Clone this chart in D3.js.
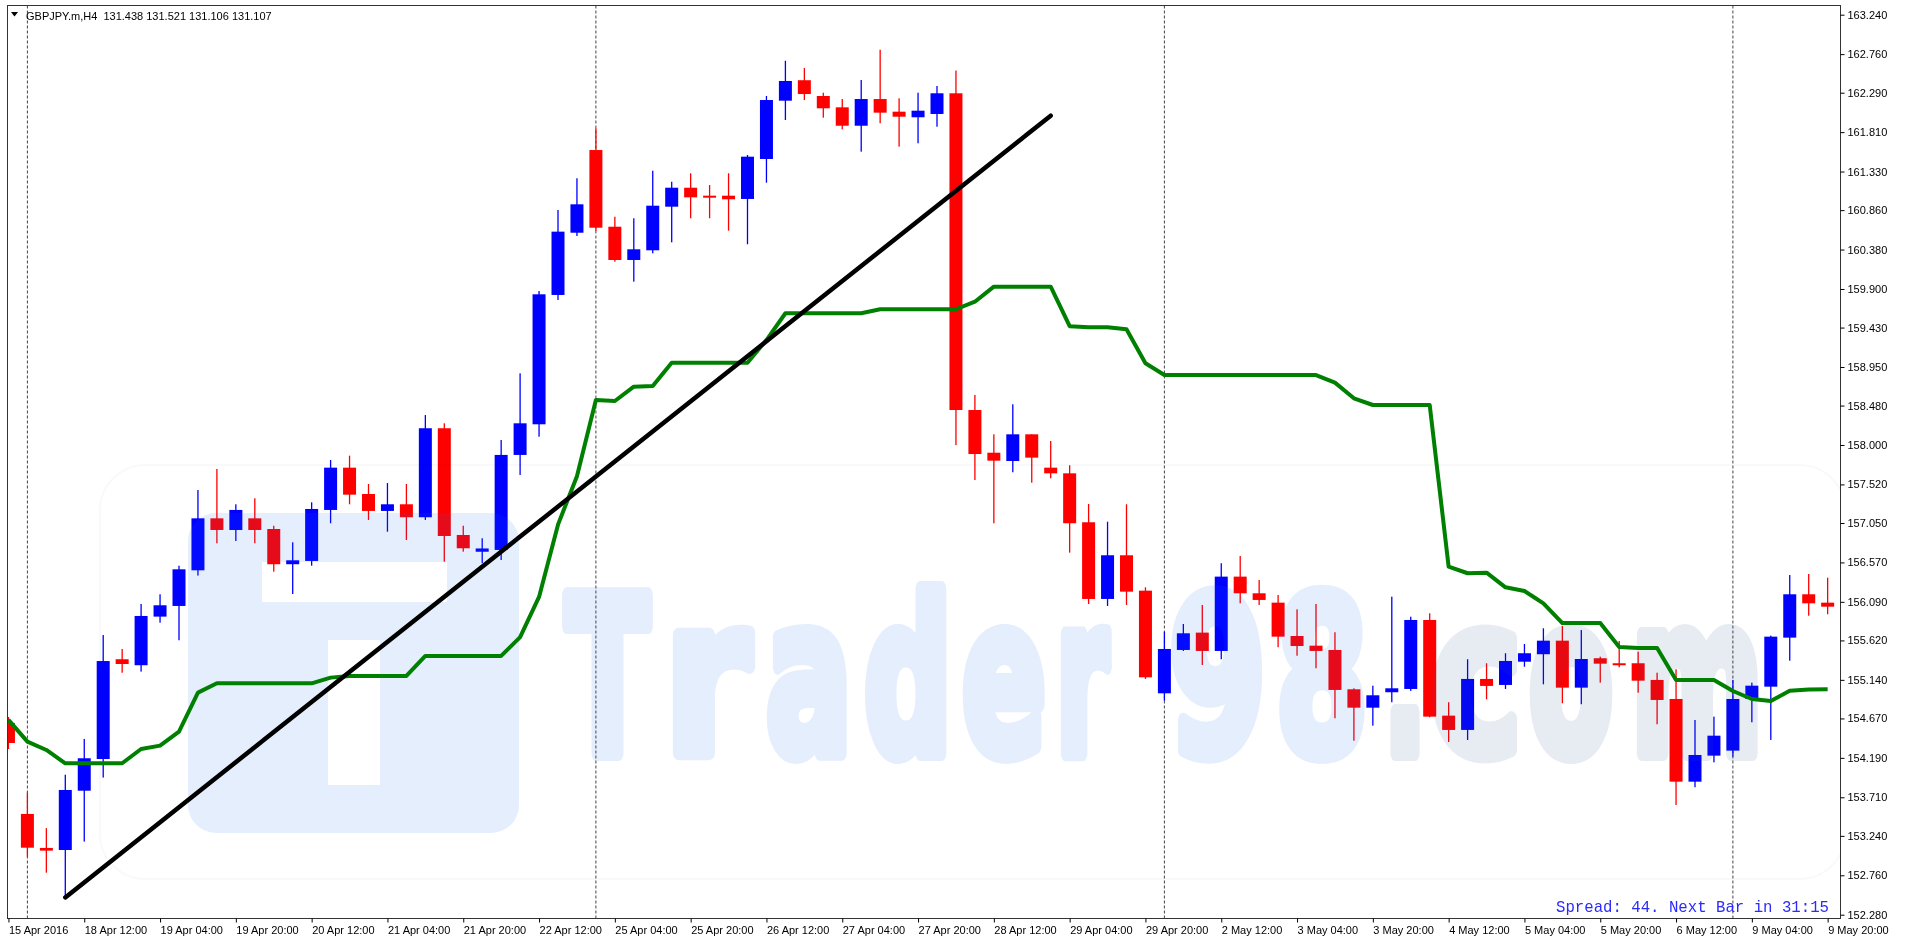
<!DOCTYPE html>
<html>
<head>
<meta charset="utf-8">
<script src="https://cdn.jsdelivr.net/npm/d3@7"></script>
<style>
  body { margin: 0; background: #fff; }
  svg { display: block; }
  .tick text { font-family: "Liberation Sans", Arial, sans-serif; font-size: 11px; fill: #000; }
</style>
</head>
<body>
<div id="chart"></div>
<script>
const TRADING_DAYS = ["15 Apr", "18 Apr", "19 Apr", "20 Apr", "21 Apr", "22 Apr",
                      "25 Apr", "26 Apr", "27 Apr", "28 Apr", "29 Apr",
                      "2 May", "3 May", "4 May", "5 May", "6 May", "9 May"];
const HOURS = ["00:00", "04:00", "08:00", "12:00", "16:00", "20:00"];

const OPEN = [154.615, 153.507, 153.093, 153.068, 153.790, 154.176, 155.391, 155.318, 155.910, 156.040,
              156.474, 157.107, 156.965, 157.107, 156.977, 156.548, 156.588, 157.209, 157.724, 157.403,
              157.197, 157.278, 157.120, 158.204, 156.904, 156.700, 156.722, 157.879, 158.252, 159.827,
              160.585, 161.592, 160.658, 160.253, 160.371, 160.902, 161.133, 161.036, 161.036, 160.996,
              161.483, 162.193, 162.442, 162.250, 162.112, 161.888, 162.213, 162.059, 161.991, 162.031,
              162.283, 158.426, 157.906, 157.805, 158.130, 157.724, 157.655, 157.059, 156.125, 156.657,
              156.226, 154.976, 155.504, 155.715, 155.492, 156.397, 156.194, 156.080, 155.674, 155.556,
              155.504, 155.025, 154.801, 154.989, 155.029, 155.869, 154.704, 154.530, 155.151, 155.078,
              155.361, 155.452, 155.617, 155.045, 155.403, 155.342, 155.342, 155.139, 154.907, 153.900,
              154.217, 154.278, 154.907, 155.057, 155.654, 156.182, 156.080];
const HIGH = [154.688, 153.766, 153.334, 153.985, 154.420, 155.686, 155.516, 156.064, 156.182, 156.530,
              157.452, 157.708, 157.278, 157.351, 157.017, 156.815, 157.302, 157.817, 157.870, 157.525,
              157.537, 157.525, 158.365, 158.264, 157.017, 156.864, 158.061, 158.873, 159.875, 160.862,
              161.248, 161.857, 160.780, 160.761, 161.340, 161.206, 161.309, 161.166, 161.309, 161.532,
              162.250, 162.679, 162.590, 162.290, 162.213, 162.445, 162.813, 162.222, 162.290, 162.372,
              162.560, 158.609, 158.130, 158.496, 158.130, 158.049, 157.753, 157.282, 157.066, 157.278,
              156.267, 155.727, 155.820, 156.052, 156.560, 156.649, 156.356, 156.174, 155.999, 156.064,
              155.720, 155.037, 155.069, 156.153, 155.909, 155.951, 154.867, 155.391, 155.342, 155.464,
              155.577, 155.768, 155.796, 155.747, 155.422, 155.613, 155.483, 155.227, 155.269, 154.651,
              154.692, 155.139, 155.106, 155.678, 156.417, 156.429, 156.384];
const LOW = [154.298, 152.987, 152.792, 152.500, 153.170, 153.950, 155.227, 155.240, 155.836, 155.622,
             156.410, 156.803, 156.831, 156.803, 156.457, 156.186, 156.530, 157.047, 157.278, 157.087,
             156.944, 156.843, 157.087, 156.579, 156.701, 156.560, 156.600, 157.635, 158.101, 159.766,
             160.545, 160.606, 160.232, 159.989, 160.334, 160.468, 160.761, 160.761, 160.610, 160.444,
             161.194, 161.958, 162.201, 161.986, 161.844, 161.572, 161.918, 161.633, 161.674, 161.876,
             157.998, 157.574, 157.047, 157.668, 157.541, 157.595, 156.689, 156.064, 156.040, 156.052,
             155.151, 154.886, 155.492, 155.321, 155.391, 156.072, 156.052, 155.537, 155.434, 155.281,
             154.672, 154.399, 154.582, 154.867, 155.005, 154.684, 154.383, 154.408, 154.903, 155.029,
             155.300, 155.086, 154.855, 154.843, 155.106, 155.293, 154.984, 154.599, 153.616, 153.832,
             154.136, 154.205, 154.623, 154.408, 155.373, 155.921, 155.939];
const CLOSE = [154.371, 153.096, 153.060, 153.799, 154.185, 155.369, 155.333, 155.918, 156.048, 156.486,
               157.107, 156.965, 157.209, 156.965, 156.548, 156.596, 157.221, 157.724, 157.395, 157.197,
               157.278, 157.120, 158.204, 156.892, 156.742, 156.740, 157.879, 158.264, 159.835, 160.598,
               160.931, 160.646, 160.253, 160.383, 160.914, 161.133, 161.016, 161.016, 160.992, 161.511,
               162.201, 162.433, 162.274, 162.100, 161.888, 162.213, 162.047, 161.998, 162.071, 162.283,
               158.426, 157.890, 157.809, 158.130, 157.846, 157.655, 157.047, 156.125, 156.657, 156.214,
               155.171, 155.516, 155.707, 155.492, 156.397, 156.194, 156.113, 155.666, 155.552, 155.492,
               155.017, 154.801, 154.952, 155.037, 155.869, 154.692, 154.530, 155.151, 155.066, 155.370,
               155.464, 155.617, 155.045, 155.394, 155.337, 155.330, 155.130, 154.895, 153.900, 154.225,
               154.460, 154.907, 155.069, 155.666, 156.182, 156.072, 156.031];

const MA = [154.652, 154.387, 154.286, 154.124, 154.124, 154.124, 154.124, 154.298, 154.339, 154.510,
            154.984, 155.098, 155.098, 155.098, 155.098, 155.098, 155.098, 155.167, 155.187, 155.187,
            155.187, 155.187, 155.431, 155.431, 155.431, 155.431, 155.431, 155.660, 156.150, 157.030,
            157.620, 158.548, 158.536, 158.710, 158.719, 159.002, 159.002, 159.002, 159.002, 159.002,
            159.278, 159.604, 159.604, 159.604, 159.604, 159.604, 159.653, 159.653, 159.653, 159.653,
            159.653, 159.745, 159.928, 159.928, 159.928, 159.928, 159.447, 159.435, 159.435, 159.410,
            158.995, 158.852, 158.852, 158.852, 158.852, 158.852, 158.852, 158.852, 158.852, 158.852,
            158.759, 158.569, 158.487, 158.487, 158.487, 158.487, 156.518, 156.438, 156.445, 156.267,
            156.222, 156.072, 155.832, 155.832, 155.832, 155.540, 155.528, 155.528, 155.138, 155.138,
            155.138, 155.004, 154.907, 154.883, 155.008, 155.023, 155.025];

const TREND_TIMES = ["18 Apr 08:00", "29 Apr 00:00"];
const TREND_PRICES = [152.49, 162.01];

const SEPARATOR_TIMES = ["18 Apr 00:00", "25 Apr 00:00", "2 May 00:00", "9 May 00:00"];

const Y_TICKS = [163.240, 162.760, 162.290, 161.810, 161.330, 160.860, 160.380, 159.900,
                 159.430, 158.950, 158.480, 158.000, 157.520, 157.050, 156.570, 156.090,
                 155.620, 155.140, 154.670, 154.190, 153.710, 153.240, 152.760, 152.280];
const X_TICK_LABELS = ["15 Apr 2016", "18 Apr 12:00", "19 Apr 04:00", "19 Apr 20:00", "20 Apr 12:00",
                       "21 Apr 04:00", "21 Apr 20:00", "22 Apr 12:00", "25 Apr 04:00", "25 Apr 20:00",
                       "26 Apr 12:00", "27 Apr 04:00", "27 Apr 20:00", "28 Apr 12:00", "29 Apr 04:00",
                       "29 Apr 20:00", "2 May 12:00", "3 May 04:00", "3 May 20:00", "4 May 12:00",
                       "5 May 04:00", "5 May 20:00", "6 May 12:00", "9 May 04:00", "9 May 20:00"];

const TITLE = "GBPJPY.m,H4  131.438 131.521 131.106 131.107";
const SPREAD_TEXT = "Spread: 44. Next Bar in 31:15";

// bar times: only the last H4 bar of 15 Apr is on screen
const TIMES = [TRADING_DAYS[0] + " 20:00"];
TRADING_DAYS.slice(1).forEach((day) => {
    HOURS.forEach((h) => TIMES.push(day + " " + h));
});
const X_TICK_TIMES = TIMES.filter((t, i) => i % 4 == 0);

const WIDTH = 1906;
const HEIGHT = 937;
const LEFT = 7.5, TOP = 5.5, RIGHT = 1840.5, BOTTOM = 918.5;
const BODY_W = 13;

const X = d3.scalePoint()
            .domain(TIMES)
            .range([8.45, 1827.65]);
const Y = d3.scaleLinear()
            .domain([152.28, 163.24])
            .range([914.7, 14.7]);

const bars = TIMES.map((t, i) => ({t: t, o: OPEN[i], h: HIGH[i], l: LOW[i], c: CLOSE[i], ma: MA[i]}));

let svg = d3.select('#chart')
            .append('svg')
            .attr('width', WIDTH)
            .attr('height', HEIGHT);

svg.append('rect')
   .attr('width', WIDTH)
   .attr('height', HEIGHT)
   .attr('fill', '#fff');

svg.append('clipPath')
   .attr('id', 'plot-clip')
   .append('rect')
   .attr('x', LEFT + 0.5)
   .attr('y', TOP + 0.5)
   .attr('width', RIGHT - LEFT - 1)
   .attr('height', BOTTOM - TOP - 1);

let plot = svg.append('g').attr('clip-path', 'url(#plot-clip)');

plot.selectAll('line.sep')
    .data(SEPARATOR_TIMES)
    .enter()
    .append('line')
    .attr('class', 'sep')
    .attr('x1', (d) => X(d))
    .attr('x2', (d) => X(d))
    .attr('y1', TOP)
    .attr('y2', BOTTOM)
    .attr('stroke', '#444')
    .attr('stroke-width', 1)
    .attr('stroke-dasharray', '3,2');

let candle = plot.selectAll('g.candle')
                 .data(bars)
                 .enter()
                 .append('g')
                 .attr('class', 'candle')
                 .attr('fill', (d) => d.c >= d.o ? '#0000ff' : '#ff0000');

candle.append('rect')
      .attr('x', (d) => X(d.t) - 0.65)
      .attr('width', 1.3)
      .attr('y', (d) => Y(d.h))
      .attr('height', (d) => Y(d.l) - Y(d.h));

candle.append('rect')
      .attr('x', (d) => X(d.t) - BODY_W / 2)
      .attr('width', BODY_W)
      .attr('y', (d) => Y(Math.max(d.o, d.c)))
      .attr('height', (d) => Math.max(2, Math.abs(Y(d.o) - Y(d.c))));

// watermark, drawn over the candles
plot.append('rect')
    .attr('x', 100)
    .attr('y', 465)
    .attr('width', 1745)
    .attr('height', 414)
    .attr('rx', 45)
    .attr('fill', 'none')
    .attr('stroke', '#000')
    .attr('stroke-opacity', 0.025)
    .attr('stroke-width', 2);

let logo = d3.path();
const LX0 = 188, LY0 = 513, LX1 = 519, LY1 = 833, R = 28;
logo.moveTo(LX0 + R, LY0);
logo.lineTo(LX1 - R, LY0);
logo.arcTo(LX1, LY0, LX1, LY0 + R, R);
logo.lineTo(LX1, LY1 - R);
logo.arcTo(LX1, LY1, LX1 - R, LY1, R);
logo.lineTo(LX0 + R, LY1);
logo.arcTo(LX0, LY1, LX0, LY1 - R, R);
logo.lineTo(LX0, LY0 + R);
logo.arcTo(LX0, LY0, LX0 + R, LY0, R);
logo.closePath();
logo.rect(262, 562, 185, 40);
logo.rect(328, 640, 52, 145);

let mark = plot.append('g').attr('opacity', 0.11);

mark.append('path')
    .attr('d', logo.toString())
    .attr('fill-rule', 'evenodd')
    .attr('fill', 'rgb(20,100,230)');

const MARK_LETTERS = [["T", 566, 649], ["r", 664, 750], ["a", 766, 852], ["d", 864, 952],
                      ["e", 962, 1046], ["r", 1056, 1108], ["9", 1169, 1266], ["8", 1276, 1368],
                      [".", 1383, 1427], ["c", 1431, 1522], ["o", 1529, 1613], ["m", 1631, 1763]];
const MARK_BASE = 753;

mark.selectAll('text')
    .data(MARK_LETTERS)
    .enter()
    .append('text')
    .attr('font-family', '"DejaVu Sans", sans-serif')
    .attr('font-weight', 'bold')
    .attr('font-size', 215)
    .attr('fill', (d, i) => i >= 8 ? 'rgb(40,80,140)' : 'rgb(20,100,230)')
    .attr('stroke', (d, i) => i >= 8 ? 'rgb(40,80,140)' : 'rgb(20,100,230)')
    .attr('stroke-width', 13)
    .attr('stroke-linejoin', 'round')
    .attr('vector-effect', 'non-scaling-stroke')
    .text((d) => d[0])
    .attr('transform', function(d) {
        const w = this.getComputedTextLength();
        return 'translate(' + d[1] + ',' + MARK_BASE + ') scale(' + ((d[2] - d[1]) / w) + ',1)';
    });

const MA_LINE = d3.line()
                  .x((d) => X(d.t))
                  .y((d) => Y(d.ma));

plot.append('path')
    .datum(bars)
    .attr('d', MA_LINE)
    .attr('fill', 'none')
    .attr('stroke', '#008000')
    .attr('stroke-width', 4)
    .attr('stroke-linejoin', 'round');

plot.append('line')
    .attr('x1', X(TREND_TIMES[0]))
    .attr('y1', Y(TREND_PRICES[0]))
    .attr('x2', X(TREND_TIMES[1]))
    .attr('y2', Y(TREND_PRICES[1]))
    .attr('stroke', '#000')
    .attr('stroke-width', 4.5)
    .attr('stroke-linecap', 'round');

svg.append('rect')
   .attr('x', LEFT)
   .attr('y', TOP)
   .attr('width', RIGHT - LEFT)
   .attr('height', BOTTOM - TOP)
   .attr('fill', 'none')
   .attr('stroke', '#333')
   .attr('stroke-width', 1);

svg.append('g')
   .attr('transform', 'translate(' + RIGHT + ', 0)')
   .attr('color', '#000')
   .call(d3.axisRight(Y).tickValues(Y_TICKS).tickFormat(d3.format('.3f')).tickSize(4).tickPadding(3))
   .call((g) => g.select('.domain').remove());

svg.append('g')
   .attr('transform', 'translate(0,' + BOTTOM + ')')
   .attr('color', '#000')
   .call(d3.axisBottom(X).tickValues(X_TICK_TIMES).tickFormat((d, i) => X_TICK_LABELS[i]).tickSize(4).tickPadding(4))
   .call((g) => g.select('.domain').remove())
   .call((g) => g.selectAll('text').attr('text-anchor', 'start').attr('x', 0));

svg.append('path')
   .attr('d', 'M11,12 L18,12 L14.5,16.5 Z')
   .attr('fill', '#000');

svg.append('text')
   .attr('x', 26)
   .attr('y', 19.5)
   .attr('font-family', '"Liberation Sans", Arial, sans-serif')
   .attr('font-size', '11px')
   .style('white-space', 'pre')
   .attr('fill', '#000')
   .text(TITLE);

svg.append('text')
   .attr('x', 1829)
   .attr('y', 912)
   .attr('text-anchor', 'end')
   .attr('font-family', '"Liberation Mono", "DejaVu Sans Mono", monospace')
   .attr('font-size', '15.7px')
   .attr('fill', '#2a2aff')
   .style('white-space', 'pre')
   .text(SPREAD_TEXT);
</script>
</body>
</html>
